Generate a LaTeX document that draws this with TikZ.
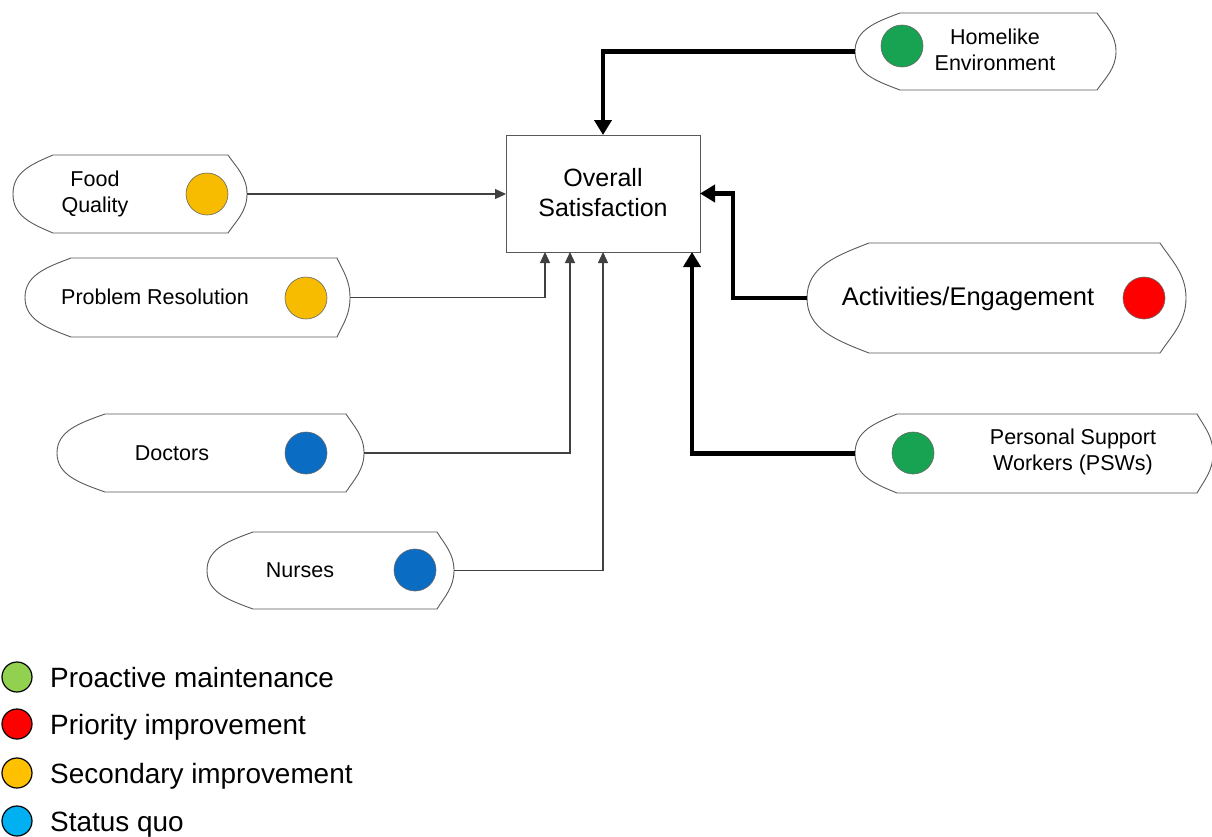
\documentclass[tikz,border=0pt]{standalone}
\usepackage{fontspec}
\setmainfont{Liberation Sans}
\usetikzlibrary{arrows.meta,fit}
\definecolor{cOrange}{HTML}{F7BC00}
\definecolor{cBlue}{HTML}{0A6CC2}
\definecolor{cGreen}{HTML}{17A352}
\definecolor{cRed}{HTML}{FF0000}
\definecolor{lGreen}{HTML}{92D050}
\definecolor{lOrange}{HTML}{FFC000}
\definecolor{lBlue}{HTML}{00B0F0}
\tikzset{
  outl/.style={draw=black!65, line width=0.9pt},
  dot/.style={circle, minimum size=42pt, inner sep=0pt, draw=black!60, line width=0.6pt},
  ldot/.style={circle, minimum size=30pt, inner sep=0pt, draw=black, line width=1.2pt},
  lbl/.style={inner sep=0pt, align=center, font=\fontsize{21.5}{26}\selectfont},
  biglbl/.style={inner sep=0pt, align=center, font=\fontsize{25.5}{30}\selectfont},
  leg/.style={inner sep=0pt, anchor=base west, font=\fontsize{27.9}{32}\selectfont},
  thinarrow/.style={draw=black!75, line width=1.2pt, -{Triangle[width=10pt,length=11pt]}},
  thickarrow/.style={draw=black, line width=4.5pt, -{Triangle[width=17pt,length=15pt]}},
}
\newcommand\dispshape[7]{%
 \node[fit={(#2,#3) (#4,#5)}, inner sep=0pt, outer sep=0pt] (#1) {};
 \pgfmathsetmacro\dsM{(#3+#5)/2}\pgfmathsetmacro\dsH{#5-#3}%
 \draw[outl] ({#2+#6},#3) -- ({#4-#7},#3)
   .. controls ({#4-0.55*#7},{#3+0.16*\dsH}) and (#4,{\dsM-0.22*\dsH}) .. (#4,\dsM)
   .. controls (#4,{\dsM+0.22*\dsH}) and ({#4-0.55*#7},{#5-0.16*\dsH}) .. ({#4-#7},#5)
   -- ({#2+#6},#5)
   .. controls ({#2+0.45*#6},{#5-0.12*\dsH}) and (#2,{\dsM+0.28*\dsH}) .. (#2,\dsM)
   .. controls (#2,{\dsM-0.28*\dsH}) and ({#2+0.45*#6},{#3+0.12*\dsH}) .. cycle;
}
\begin{document}
\begin{tikzpicture}[x=1pt,y=-1pt]
\useasboundingbox (0,0) rectangle (1212,836);
\fill[white] (0,0) rectangle (1212,836);

% central box
\node[draw=black!65, line width=0.9pt, fit={(506,135) (700,252)}, inner sep=0pt, outer sep=0pt] (box) {};
\node[biglbl, font=\fontsize{25}{30}\selectfont] (boxt) at (603,193) {Overall\\Satisfaction};

% shapes
\dispshape{food}{13}{155}{247}{233}{40}{19}
\dispshape{prob}{25}{258}{350}{337}{46}{13}
\dispshape{doc}{57}{414}{364}{492}{48}{18}
\dispshape{nur}{207}{532}{454}{609}{46}{17}
\dispshape{home}{855}{13}{1116}{90}{45}{19}
\dispshape{act}{807}{243}{1186}{353}{62}{26}
\dispshape{psw}{855}{414}{1213}{493}{42}{16}

% circles
\node[dot, fill=cOrange] (foodc) at (207,194) {};
\node[dot, fill=cOrange] (probc) at (306,298) {};
\node[dot, fill=cBlue] (docc) at (306,453) {};
\node[dot, fill=cBlue] (nurc) at (415,570) {};
\node[dot, fill=cGreen] (homec) at (902,46) {};
\node[dot, fill=cRed] (actc) at (1144,298) {};
\node[dot, fill=cGreen] (pswc) at (913,453) {};

% labels
\node[lbl] (foodt) at (95,194) {Food\\Quality};
\node[lbl] (probt) at (155,297) {Problem Resolution};
\node[lbl] (doct) at (172,453) {Doctors};
\node[lbl] (nurt) at (300,570) {Nurses};
\node[lbl] (homet) at (995,50) {Homelike\\Environment};
\node[biglbl] (actt) at (968,299) {Activities/Engagement};
\node[lbl] (pswt) at (1073,452) {Personal Support\\Workers (PSWs)};

% connector anchor points
\coordinate (b1) at (545,252);
\coordinate (b2) at (570,252);
\coordinate (b4) at (692,252);
\coordinate (actbend) at (733,298);

\draw[thickarrow] (home.west) -| (box.north);
\draw[thinarrow] (food.east) -- (food.east -| box.west);
\draw[thinarrow] (prob.east) -| (b1);
\draw[thinarrow] (doc.east) -| (b2);
\draw[thinarrow] (nur.east) -| (box.south);
\draw[thickarrow] (act.west) -- (actbend) |- (box.east);
\draw[thickarrow] (psw.west) -| (b4);

% legend
\node[ldot, fill=lGreen] (l1) at (17,677) {};
\node[ldot, fill=cRed] (l2) at (17,724) {};
\node[ldot, fill=lOrange] (l3) at (17,773) {};
\node[ldot, fill=lBlue] (l4) at (17,821) {};
\node[leg] (l1t) at (50,687) {Proactive maintenance};
\node[leg] (l2t) at (50,734) {Priority improvement};
\node[leg] (l3t) at (50,783) {Secondary improvement};
\node[leg] (l4t) at (50,831) {Status quo};
\end{tikzpicture}
\end{document}
